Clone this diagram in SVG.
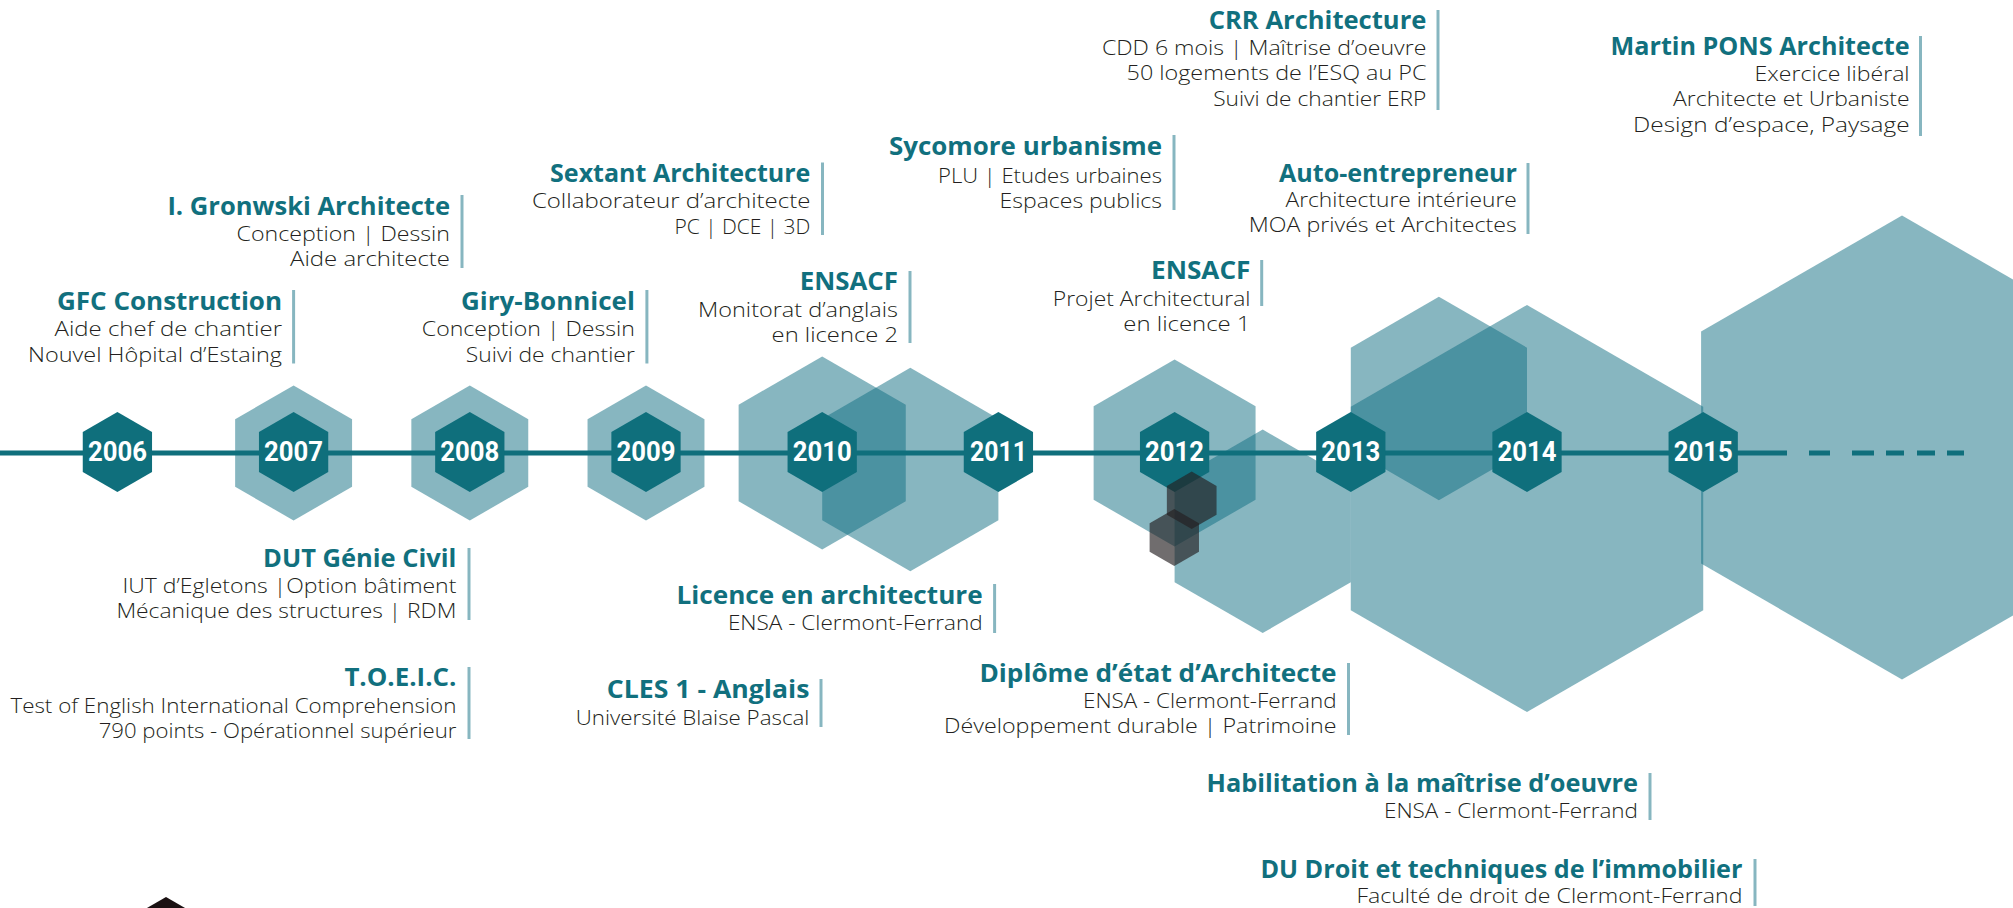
<svg xmlns="http://www.w3.org/2000/svg" xmlns:xlink="http://www.w3.org/1999/xlink" width="2013" height="908" viewBox="0 0 2013 908">
<defs>
<polygon id="yh" points="0,-40 34.64,-20 34.64,20 0,40 -34.64,20 -34.64,-20"/>
</defs>
<style>
.lh{fill:#0f6d81;fill-opacity:0.5}
.yh{fill:#0f6f7c}
.dh{fill:#231f20;fill-opacity:0.65}
.yt{font-family:Roboto,"Liberation Sans",sans-serif;font-weight:700;font-size:27px;fill:#fff;text-anchor:middle}
.hd{font-family:"Open Sans","Liberation Sans",sans-serif;font-weight:700;font-size:25.5px;fill:#11707e;text-anchor:end}
.bd{font-family:"Open Sans","Liberation Sans",sans-serif;font-weight:300;font-size:21px;fill:#231f20;text-anchor:end}
.bar{stroke:#87b6c0;stroke-width:3}
.tl{stroke:#0f6f7c;stroke-width:5;fill:none}
</style>
<rect width="2013" height="908" fill="#fff"/>
<g id="background-hexagons">
<polygon class="lh" points="293.6,385.5 352.06,419.25 352.06,486.75 293.6,520.5 235.14,486.75 235.14,419.25"/>
<polygon class="lh" points="469.8,385.5 528.26,419.25 528.26,486.75 469.8,520.5 411.34,486.75 411.34,419.25"/>
<polygon class="lh" points="646,385.5 704.46,419.25 704.46,486.75 646,520.5 587.54,486.75 587.54,419.25"/>
<polygon class="lh" points="822.2,356.5 905.77,404.75 905.77,501.25 822.2,549.5 738.63,501.25 738.63,404.75"/>
<polygon class="lh" points="910.3,367.8 998.4,418.65 998.4,520.35 910.3,571.2 822.2,520.35 822.2,418.65"/>
<polygon class="lh" points="1174.6,359.5 1255.57,406.25 1255.57,499.75 1174.6,546.5 1093.63,499.75 1093.63,406.25"/>
<polygon class="lh" points="1262.7,429.6 1350.8,480.45 1350.8,582.15 1262.7,633 1174.6,582.15 1174.6,480.45"/>
<polygon class="lh" points="1438.9,296.8 1527,347.65 1527,449.35 1438.9,500.2 1350.8,449.35 1350.8,347.65"/>
<polygon class="lh" points="1527,305 1703.23,406.75 1703.23,610.25 1527,712 1350.77,610.25 1350.77,406.75"/>
<polygon class="lh" points="1902,215.5 2102.91,331.5 2102.91,563.5 1902,679.5 1701.09,563.5 1701.09,331.5"/>
</g>
<g id="connectors">
<path class="tl" d="M0 453 H1787 M1809 453 H1830 M1852 453 H1874 M1886 453 H1904 M1917 453 H1935 M1947 453 H1964"/>
</g>
<g id="year-2006"><use xlink:href="#yh" href="#yh" class="yh" x="117.4" y="452"/><text class="yt" x="117.4" y="461" textLength="59" lengthAdjust="spacingAndGlyphs">2006</text></g>
<g id="year-2007"><use xlink:href="#yh" href="#yh" class="yh" x="293.6" y="452"/><text class="yt" x="293.6" y="461" textLength="59" lengthAdjust="spacingAndGlyphs">2007</text></g>
<g id="year-2008"><use xlink:href="#yh" href="#yh" class="yh" x="469.8" y="452"/><text class="yt" x="469.8" y="461" textLength="59" lengthAdjust="spacingAndGlyphs">2008</text></g>
<g id="year-2009"><use xlink:href="#yh" href="#yh" class="yh" x="646" y="452"/><text class="yt" x="646" y="461" textLength="59" lengthAdjust="spacingAndGlyphs">2009</text></g>
<g id="year-2010"><use xlink:href="#yh" href="#yh" class="yh" x="822.2" y="452"/><text class="yt" x="822.2" y="461" textLength="59" lengthAdjust="spacingAndGlyphs">2010</text></g>
<g id="year-2011"><use xlink:href="#yh" href="#yh" class="yh" x="998.4" y="452"/><text class="yt" x="998.4" y="461" textLength="57" lengthAdjust="spacingAndGlyphs">2011</text></g>
<g id="year-2012"><use xlink:href="#yh" href="#yh" class="yh" x="1174.6" y="452"/><text class="yt" x="1174.6" y="461" textLength="59" lengthAdjust="spacingAndGlyphs">2012</text></g>
<g id="year-2013"><use xlink:href="#yh" href="#yh" class="yh" x="1350.8" y="452"/><text class="yt" x="1350.8" y="461" textLength="59" lengthAdjust="spacingAndGlyphs">2013</text></g>
<g id="year-2014"><use xlink:href="#yh" href="#yh" class="yh" x="1527" y="452"/><text class="yt" x="1527" y="461" textLength="59" lengthAdjust="spacingAndGlyphs">2014</text></g>
<g id="year-2015"><use xlink:href="#yh" href="#yh" class="yh" x="1703.2" y="452"/><text class="yt" x="1703.2" y="461" textLength="59" lengthAdjust="spacingAndGlyphs">2015</text></g>
<g id="dark-hexagons">
<polygon class="dh" points="1191.7,471.6 1216.55,485.95 1216.55,514.65 1191.7,529 1166.85,514.65 1166.85,485.95"/>
<polygon class="dh" points="1174.3,509 1198.98,523.25 1198.98,551.75 1174.3,566 1149.62,551.75 1149.62,523.25"/>
<polygon fill="#1a1112" points="166,897 200.64,917 200.64,957 166,977 131.36,957 131.36,917"/>
</g>
<g id="gfc-construction">
<line class="bar" x1="293.6" y1="290" x2="293.6" y2="363.5"/>
<text class="hd" x="282" y="310" textLength="225" lengthAdjust="spacingAndGlyphs">GFC Construction</text>
<text class="bd" x="282" y="336" textLength="227.5" lengthAdjust="spacingAndGlyphs">Aide chef de chantier</text>
<text class="bd" x="282" y="361.5" textLength="254" lengthAdjust="spacingAndGlyphs">Nouvel Hôpital d’Estaing</text>
</g>
<g id="gronwski">
<line class="bar" x1="462" y1="195" x2="462" y2="268"/>
<text class="hd" x="450" y="215" textLength="282.6" lengthAdjust="spacingAndGlyphs">I. Gronwski Architecte</text>
<text class="bd" x="450" y="241" textLength="213.4" lengthAdjust="spacingAndGlyphs">Conception | Dessin</text>
<text class="bd" x="450" y="266" textLength="160" lengthAdjust="spacingAndGlyphs">Aide architecte</text>
</g>
<g id="giry-bonnicel">
<line class="bar" x1="646.9" y1="290" x2="646.9" y2="363.5"/>
<text class="hd" x="634.8" y="310" textLength="173.8" lengthAdjust="spacingAndGlyphs">Giry-Bonnicel</text>
<text class="bd" x="634.8" y="336" textLength="213" lengthAdjust="spacingAndGlyphs">Conception | Dessin</text>
<text class="bd" x="634.8" y="361.5" textLength="169" lengthAdjust="spacingAndGlyphs">Suivi de chantier</text>
</g>
<g id="sextant">
<line class="bar" x1="822.5" y1="162.5" x2="822.5" y2="235"/>
<text class="hd" x="810.4" y="181.5" textLength="260.3" lengthAdjust="spacingAndGlyphs">Sextant Architecture</text>
<text class="bd" x="810.4" y="208" textLength="278.5" lengthAdjust="spacingAndGlyphs">Collaborateur d’architecte</text>
<text class="bd" x="810.4" y="233.5" textLength="136" lengthAdjust="spacingAndGlyphs">PC | DCE | 3D</text>
</g>
<g id="ensacf-monitorat">
<line class="bar" x1="910" y1="271" x2="910" y2="343"/>
<text class="hd" x="898" y="290" textLength="98.3" lengthAdjust="spacingAndGlyphs">ENSACF</text>
<text class="bd" x="898" y="316.5" textLength="200" lengthAdjust="spacingAndGlyphs">Monitorat d’anglais</text>
<text class="bd" x="898" y="341.5" textLength="126.4" lengthAdjust="spacingAndGlyphs">en licence 2</text>
</g>
<g id="sycomore">
<line class="bar" x1="1174" y1="135" x2="1174" y2="210"/>
<text class="hd" x="1162" y="155" textLength="273" lengthAdjust="spacingAndGlyphs">Sycomore urbanisme</text>
<text class="bd" x="1162" y="182.5" textLength="224" lengthAdjust="spacingAndGlyphs">PLU | Etudes urbaines</text>
<text class="bd" x="1162" y="208" textLength="162.4" lengthAdjust="spacingAndGlyphs">Espaces publics</text>
</g>
<g id="ensacf-projet">
<line class="bar" x1="1261.7" y1="260" x2="1261.7" y2="306"/>
<text class="hd" x="1250.5" y="279.3" textLength="99.5" lengthAdjust="spacingAndGlyphs">ENSACF</text>
<text class="bd" x="1250.5" y="305.5" textLength="197.7" lengthAdjust="spacingAndGlyphs">Projet Architectural</text>
<text class="bd" x="1250.5" y="330.7" textLength="127.2" lengthAdjust="spacingAndGlyphs">en licence 1</text>
</g>
<g id="auto-entrepreneur">
<line class="bar" x1="1528" y1="163" x2="1528" y2="234"/>
<text class="hd" x="1516.8" y="181.7" textLength="237.8" lengthAdjust="spacingAndGlyphs">Auto-entrepreneur</text>
<text class="bd" x="1516.8" y="207.3" textLength="231.3" lengthAdjust="spacingAndGlyphs">Architecture intérieure</text>
<text class="bd" x="1516.8" y="232.3" textLength="268" lengthAdjust="spacingAndGlyphs">MOA privés et Architectes</text>
</g>
<g id="crr-architecture">
<line class="bar" x1="1438" y1="10" x2="1438" y2="110"/>
<text class="hd" x="1426.4" y="29" textLength="217.7" lengthAdjust="spacingAndGlyphs">CRR Architecture</text>
<text class="bd" x="1426.4" y="54.5" textLength="324.4" lengthAdjust="spacingAndGlyphs">CDD 6 mois | Maîtrise d’oeuvre</text>
<text class="bd" x="1426.4" y="80" textLength="299.8" lengthAdjust="spacingAndGlyphs">50 logements de l’ESQ au PC</text>
<text class="bd" x="1426.4" y="105.5" textLength="213.2" lengthAdjust="spacingAndGlyphs">Suivi de chantier ERP</text>
</g>
<g id="martin-pons">
<line class="bar" x1="1920.5" y1="36" x2="1920.5" y2="136"/>
<text class="hd" x="1909.6" y="55" textLength="299" lengthAdjust="spacingAndGlyphs">Martin PONS Architecte</text>
<text class="bd" x="1909.6" y="81" textLength="155" lengthAdjust="spacingAndGlyphs">Exercice libéral</text>
<text class="bd" x="1909.6" y="106" textLength="236.5" lengthAdjust="spacingAndGlyphs">Architecte et Urbaniste</text>
<text class="bd" x="1909.6" y="131.7" textLength="276.6" lengthAdjust="spacingAndGlyphs">Design d’espace, Paysage</text>
</g>
<g id="dut-genie-civil">
<line class="bar" x1="469" y1="548" x2="469" y2="620"/>
<text class="hd" x="456.4" y="566.7" textLength="193.4" lengthAdjust="spacingAndGlyphs">DUT Génie Civil</text>
<text class="bd" x="456.4" y="593.3" textLength="334" lengthAdjust="spacingAndGlyphs">IUT d’Egletons |Option bâtiment</text>
<text class="bd" x="456.4" y="618.3" textLength="340" lengthAdjust="spacingAndGlyphs">Mécanique des structures | RDM</text>
</g>
<g id="toeic">
<line class="bar" x1="469" y1="667" x2="469" y2="739"/>
<text class="hd" x="456.4" y="686" textLength="112" lengthAdjust="spacingAndGlyphs">T.O.E.I.C.</text>
<text class="bd" x="456.4" y="712.7" textLength="446" lengthAdjust="spacingAndGlyphs">Test of English International Comprehension</text>
<text class="bd" x="456.4" y="738.3" textLength="357.7" lengthAdjust="spacingAndGlyphs">790 points - Opérationnel supérieur</text>
</g>
<g id="cles-1">
<line class="bar" x1="821" y1="679" x2="821" y2="727"/>
<text class="hd" x="809.4" y="698.3" textLength="202.6" lengthAdjust="spacingAndGlyphs">CLES 1 - Anglais</text>
<text class="bd" x="809.4" y="725" textLength="233.6" lengthAdjust="spacingAndGlyphs">Université Blaise Pascal</text>
</g>
<g id="licence">
<line class="bar" x1="994.6" y1="584" x2="994.6" y2="633"/>
<text class="hd" x="982.6" y="603.8" textLength="306" lengthAdjust="spacingAndGlyphs">Licence en architecture</text>
<text class="bd" x="982.6" y="630" textLength="254.7" lengthAdjust="spacingAndGlyphs">ENSA - Clermont-Ferrand</text>
</g>
<g id="diplome">
<line class="bar" x1="1348.5" y1="663" x2="1348.5" y2="735"/>
<text class="hd" x="1336.5" y="681.7" textLength="357" lengthAdjust="spacingAndGlyphs">Diplôme d’état d’Architecte</text>
<text class="bd" x="1336.5" y="707.7" textLength="253.5" lengthAdjust="spacingAndGlyphs">ENSA - Clermont-Ferrand</text>
<text class="bd" x="1336.5" y="733.3" textLength="392.5" lengthAdjust="spacingAndGlyphs">Développement durable | Patrimoine</text>
</g>
<g id="habilitation">
<line class="bar" x1="1650" y1="773" x2="1650" y2="820"/>
<text class="hd" x="1638" y="791.7" textLength="431.5" lengthAdjust="spacingAndGlyphs">Habilitation à la maîtrise d’oeuvre</text>
<text class="bd" x="1638" y="818.3" textLength="254" lengthAdjust="spacingAndGlyphs">ENSA - Clermont-Ferrand</text>
</g>
<g id="du-droit">
<line class="bar" x1="1755" y1="859" x2="1755" y2="906"/>
<text class="hd" x="1742.4" y="877.7" textLength="482" lengthAdjust="spacingAndGlyphs">DU Droit et techniques de l’immobilier</text>
<text class="bd" x="1742.4" y="903.3" textLength="386" lengthAdjust="spacingAndGlyphs">Faculté de droit de Clermont-Ferrand</text>
</g>
</svg>
